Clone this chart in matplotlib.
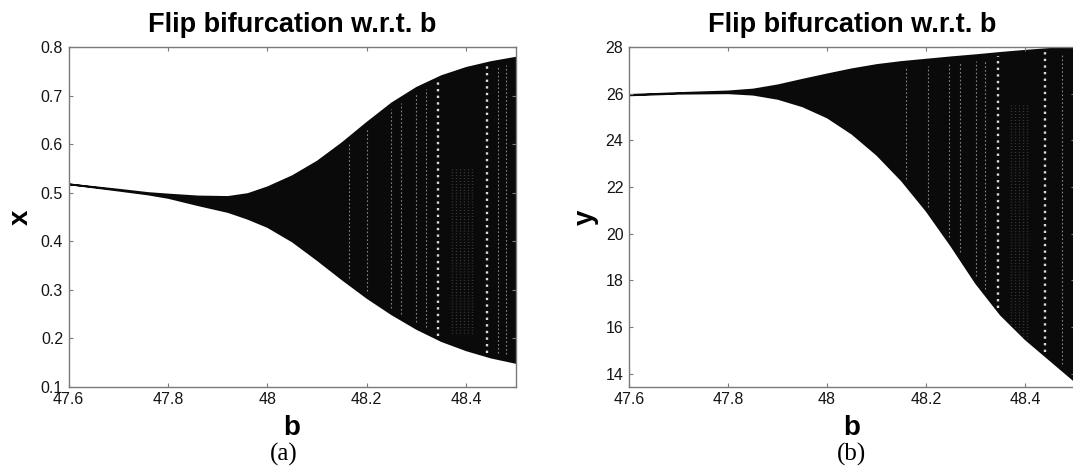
import numpy as np
import matplotlib
matplotlib.use("Agg")
import matplotlib.pyplot as plt

plt.rcParams['font.family'] = ['Liberation Sans', 'DejaVu Sans']

# ---- panel (a): envelope of x vs b ----
b_a = [47.60, 47.70, 47.76, 47.80, 47.86, 47.92, 47.96, 48.00, 48.05,
       48.10, 48.15, 48.20, 48.25, 48.30, 48.35, 48.40, 48.45, 48.50]
x_upper = [0.518, 0.507, 0.500, 0.497, 0.493, 0.492, 0.498, 0.512, 0.535,
           0.565, 0.603, 0.645, 0.685, 0.717, 0.741, 0.758, 0.770, 0.779]
x_lower = [0.518, 0.505, 0.497, 0.490, 0.475, 0.461, 0.447, 0.430, 0.400,
           0.362, 0.322, 0.284, 0.250, 0.220, 0.195, 0.176, 0.161, 0.150]
# white periodic-window streaks
strong_a = [48.344, 48.443]
faint_a = [48.165, 48.20, 48.25, 48.27, 48.30, 48.32, 48.465, 48.48]
cloud_a = [48.372, 48.38, 48.388, 48.396, 48.404, 48.412]
cloud_a_range = (0.21, 0.55)

# ---- panel (b): envelope of y vs b ----
b_b = [47.60, 47.70, 47.80, 47.85, 47.90, 47.95, 48.00, 48.05, 48.10,
       48.15, 48.20, 48.25, 48.30, 48.35, 48.40, 48.45, 48.50]
y_upper = [25.97, 26.05, 26.12, 26.20, 26.38, 26.62, 26.85, 27.07, 27.25,
           27.38, 27.48, 27.58, 27.67, 27.77, 27.86, 27.94, 28.02]
y_lower = [25.95, 26.02, 26.04, 25.98, 25.80, 25.48, 25.00, 24.30, 23.40,
           22.30, 21.00, 19.50, 17.90, 16.55, 15.50, 14.60, 13.70]
strong_b = [48.345, 48.44]
faint_b = [48.16, 48.205, 48.247, 48.268, 48.30, 48.32, 48.475]
cloud_b = [48.372, 48.38, 48.388, 48.396, 48.404]
cloud_b_range = (15.5, 25.5)

xticks = [47.6, 47.8, 48.0, 48.2, 48.4]
xticklabels = ['47.6', '47.8', '48', '48.2', '48.4']
yticks_a = [0.1, 0.2, 0.3, 0.4, 0.5, 0.6, 0.7, 0.8]
yticklabels_a = ['0.1', '0.2', '0.3', '0.4', '0.5', '0.6', '0.7', '0.8']
yticks_b = [14, 16, 18, 20, 22, 24, 26, 28]
yticklabels_b = ['14', '16', '18', '20', '22', '24', '26', '28']

INK = '#0a0a0a'
SPINE = '#7a7a7a'


def draw_panel(ax, b, lower, upper, strong, faint, cloud, cloud_range,
               ylim, yticks, yticklabels, ylabel):
    poly = ax.fill_between(b, lower, upper, color=INK, lw=1.3, edgecolor=INK)
    clip = poly.get_paths()[0]
    tr = poly.get_transform()

    span = upper[-1] - lower[-1]
    lo_f = np.interp(faint, b, lower) + 0.02 * span
    hi_f = np.interp(faint, b, upper) - 0.02 * span
    lc = ax.vlines(faint, lo_f, hi_f, colors='white', lw=0.8, alpha=0.5,
                   linestyles=(0, (1.5, 2.0)))
    lc.set_clip_path(clip, tr)

    lo_s = np.interp(strong, b, lower) + 0.01 * span
    hi_s = np.interp(strong, b, upper) - 0.01 * span
    lc = ax.vlines(strong, lo_s, hi_s, colors='white', lw=1.7, alpha=0.85,
                   linestyles=(0, (1.0, 1.8)))
    lc.set_clip_path(clip, tr)

    lc = ax.vlines(cloud, cloud_range[0], cloud_range[1], colors='#aaaaaa',
                   lw=1.0, alpha=0.4, linestyles=(0, (0.5, 1.6)))
    lc.set_clip_path(clip, tr)

    ax.set_xlim(47.6, 48.5)
    ax.set_ylim(*ylim)
    ax.set_xticks(xticks)
    ax.set_xticklabels(xticklabels)
    ax.set_yticks(yticks)
    ax.set_yticklabels(yticklabels)
    ax.tick_params(direction='in', length=3, width=0.8, color=SPINE,
                   labelsize=11.5, labelcolor='#151515',
                   top=True, right=True, pad=4)
    for s in ax.spines.values():
        s.set_color(SPINE)
        s.set_linewidth(1.0)
    ax.set_title('Flip bifurcation w.r.t. b', fontsize=19.5,
                 fontweight='bold', pad=10.5)
    ax.set_xlabel('b', fontsize=20, fontweight='bold', labelpad=5.5)
    ax.set_ylabel(ylabel, fontsize=20, fontweight='bold', labelpad=5)


fig = plt.figure(figsize=(10.73, 4.71), dpi=100)
ax1 = fig.add_axes([0.0640, 0.1790, 0.4165, 0.7212])
ax2 = fig.add_axes([0.5862, 0.1790, 0.4152, 0.7212])

draw_panel(ax1, b_a, x_lower, x_upper, strong_a, faint_a, cloud_a,
           cloud_a_range, (0.1, 0.8), yticks_a, yticklabels_a, 'x')
draw_panel(ax2, b_b, y_lower, y_upper, strong_b, faint_b, cloud_b,
           cloud_b_range, (13.45, 28), yticks_b, yticklabels_b, 'y')

fig.text(0.264, 0.036, '(a)', family=['Liberation Serif', 'DejaVu Serif'],
         fontsize=18, ha='center', va='center')
fig.text(0.794, 0.036, '(b)', family=['Liberation Serif', 'DejaVu Serif'],
         fontsize=18, ha='center', va='center')

fig.savefig('out.png', dpi=100)
